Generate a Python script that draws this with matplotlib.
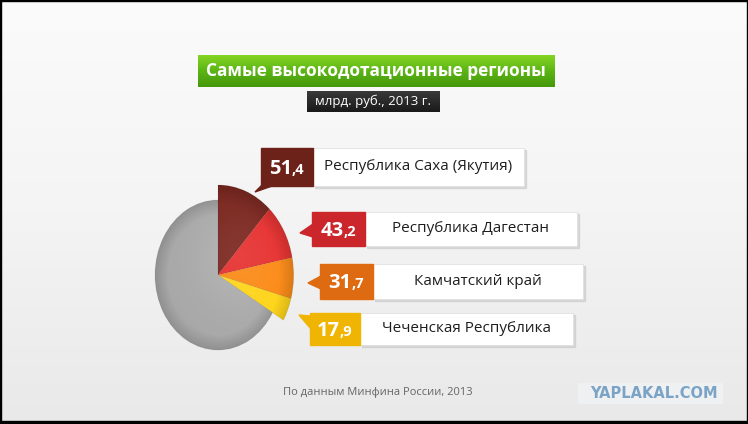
import matplotlib.pyplot as plt
import numpy as np
from matplotlib.colors import LinearSegmentedColormap
from matplotlib.patches import Rectangle, Polygon

plt.rcParams['font.family'] = ['Open Sans', 'DejaVu Sans']

# --- data ---
title = "Самые высокодотационные регионы"
subtitle = "млрд. руб., 2013 г."
source = "По данным Минфина России, 2013"
watermark = "YAPLAKAL.COM"

regions = ["Республика Саха (Якутия)", "Республика Дагестан",
           "Камчатский край", "Чеченская Республика"]
values = [51.4, 43.2, 31.7, 17.9]
other = 288.0  # остальные регионы (серый сектор), оценка по картинке

slice_colors = ["#7b271f", "#e6302f", "#fb8a16", "#fed51a"]
box_colors = ["#6d2219", "#ca262b", "#de6a12", "#f0b403"]
other_color = "#a8a8a8"

# callout layout in pixels: value box x0, split, white box end, y0, y1
rows = [(261, 313, 524, 148, 186),
        (312, 365, 577, 212, 246),
        (320, 373, 583, 264, 299),
        (310, 360, 573, 313, 345)]
pointers = [[(262, 185), (275, 185), (255, 192)],
            [(313, 224), (313, 237), (300, 233)],
            [(321, 276), (321, 289), (308, 283)],
            [(311, 316), (311, 329), (299, 315)]]

W, H = 748, 424
fig = plt.figure(figsize=(W / 100, H / 100), dpi=100)
ax = fig.add_axes([0, 0, 1, 1])
ax.set_xlim(0, W)
ax.set_ylim(H, 0)
ax.axis('off')

# background
bg = LinearSegmentedColormap.from_list('bg', ['#fbfbfb', '#f4f4f4', '#e9e9e9'])
ax.imshow(np.linspace(0, 1, 200).reshape(-1, 1), extent=[0, W, H, 0],
          aspect='auto', cmap=bg, zorder=0)
for x, y, w, h in [(0, 0, W, 1), (0, 0, 1, H), (W - 1, 0, 1, H), (0, H - 3, W, 3)]:
    ax.add_patch(Rectangle((x, y), w, h, color='black', zorder=10))

# title
green = LinearSegmentedColormap.from_list('g', ['#84d423', '#5cb414', '#45990b'])
ax.imshow(np.linspace(0, 1, 50).reshape(-1, 1), extent=[198, 555, 87, 55],
          aspect='auto', cmap=green, zorder=2)
ax.text(376, 71.5, title, color='white', fontsize=12.4, fontweight='bold',
        ha='center', va='center', zorder=3)
dark = LinearSegmentedColormap.from_list('d', ['#3a3a3a', '#1a1a1a'])
ax.imshow(np.linspace(0, 1, 50).reshape(-1, 1), extent=[307, 440, 112, 91],
          aspect='auto', cmap=dark, zorder=2)
ax.text(373.5, 101.5, subtitle, color='white', fontsize=9.5,
        ha='center', va='center', zorder=3)

# callouts
for i, (x0, xm, x1, y0, y1) in enumerate(rows):
    ax.add_patch(Rectangle((xm + 2, y0 + 2), x1 - xm, y1 - y0,
                           color='#c8c8c8', alpha=0.6, zorder=3))
    ax.add_patch(Rectangle((xm, y0), x1 - xm, y1 - y0, facecolor='white',
                           edgecolor='#dddddd', lw=0.5, zorder=4))
    ax.add_patch(Rectangle((x0, y0), xm - x0, y1 - y0,
                           color=box_colors[i], zorder=4))
    ax.add_patch(Polygon(pointers[i], closed=True, color=box_colors[i], zorder=4))
    whole, frac = f"{values[i]:.1f}".split('.')
    xc = (x0 + xm) / 2 + 5
    yb = (y0 + y1) / 2 + 7
    ax.text(xc, yb, whole, color='white', fontsize=14.5, fontweight='bold',
            ha='right', va='baseline', zorder=5)
    ax.text(xc, yb, "," + frac, color='white', fontsize=10.5, fontweight='bold',
            ha='left', va='baseline', zorder=5)
    ax.text((xm + x1) / 2, (y0 + y1) / 2, regions[i], color='#1e1e1e',
            fontsize=11, ha='center', va='center', zorder=5)

# footer
ax.text(283, 392, source, color='#666666', fontsize=8, ha='left',
        va='center', zorder=3)
ax.add_patch(Rectangle((578, 383), 144, 20, color='#eef0f2', zorder=2))
ax.text(654, 393.5, watermark, color='#7aa3c6', fontsize=10.5, fontweight='heavy',
        family='DejaVu Sans', ha='center', va='center', zorder=3)

# pie: centre (218, 275) px, 1 unit = 63 px wide, 75 px high
cx, cy, sx, sy, lim = 218, 275, 63, 75, 1.4
pax = fig.add_axes([(cx - lim * sx) / W, (H - cy - lim * sy) / H,
                    2 * lim * sx / W, 2 * lim * sy / H])
wedges, _ = pax.pie(values + [other], colors=slice_colors + [other_color],
                    startangle=90, counterclock=False,
                    wedgeprops=dict(linewidth=0.5, edgecolor='#00000018'))
for w in wedges[:4]:
    w.set_radius(1.2)

gx, gy = np.meshgrid(np.linspace(-lim, lim, 300), np.linspace(-lim, lim, 300))
rr = np.hypot(gx, gy)
light = np.exp(-((gx - 0.35) ** 2 + (gy - 0.25) ** 2) / 0.5)
for w in wedges:
    edge = np.clip((rr / w.r - 0.8) / 0.2, 0, 1)
    shade = np.zeros(gx.shape + (4,))
    shade[..., 3] = 0.14 * edge
    im = pax.imshow(shade, extent=[-lim, lim, -lim, lim], origin='lower',
                    aspect='auto', zorder=3)
    im.set_clip_path(w)
    hl = np.zeros(gx.shape + (4,))
    hl[..., :3] = 1.0
    hl[..., 3] = (0.16 if w is wedges[-1] else 0.08) * light
    im2 = pax.imshow(hl, extent=[-lim, lim, -lim, lim], origin='lower',
                     aspect='auto', zorder=3)
    im2.set_clip_path(w)

pax.set_aspect('auto')
pax.set_xlim(-lim, lim)
pax.set_ylim(-lim, lim)
pax.axis('off')

fig.savefig('out.png', dpi=100)
